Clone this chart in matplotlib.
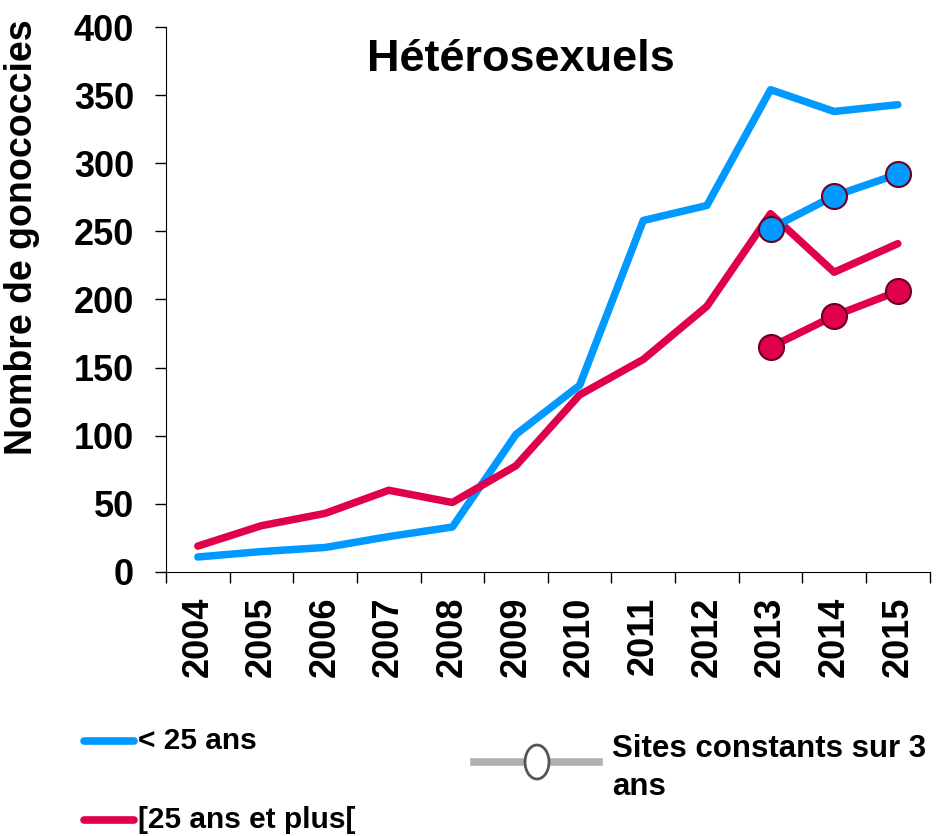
import matplotlib.pyplot as plt
import numpy as np
from matplotlib.lines import Line2D
from matplotlib.patches import Ellipse

plt.rcParams['font.family'] = ['Liberation Sans', 'DejaVu Sans']

years = ['2004', '2005', '2006', '2007', '2008', '2009', '2010', '2011', '2012', '2013', '2014', '2015']
moins25 = [11, 15, 18, 26, 33, 101, 137, 258, 269, 354, 338, 343]
plus25 = [19, 34, 43, 60, 51, 78, 130, 156, 195, 263, 220, 241]
const_years = ['2013', '2014', '2015']
const_moins25 = [252, 276, 292]
const_plus25 = [165, 188, 206]

blue = '#0099FF'
red = '#E0004D'
edge = '#6B0022'

fig = plt.figure(figsize=(9.39, 8.36), dpi=100)
ax = fig.add_axes([0.1768, 0.3158, 0.8132, 0.6519])

x = np.arange(len(years))
xc = [years.index(y) for y in const_years]
ax.plot(x, moins25, color=blue, lw=5.4, solid_capstyle='round')
ax.plot(x, plus25, color=red, lw=5.4, solid_capstyle='round')
ax.plot(xc, const_moins25, color=blue, lw=5.4, marker='o', ms=18,
        mfc=blue, mec=edge, mew=1.5)
ax.plot(xc, const_plus25, color=red, lw=5.4, marker='o', ms=18,
        mfc=red, mec=edge, mew=1.5)

ax.set_xlim(-0.5, len(years) - 0.5)
ax.set_ylim(0, 400)
ax.set_yticks(range(0, 401, 50))
ax.set_yticklabels([str(v) for v in range(0, 401, 50)], fontsize=26, fontweight='bold')
ax.set_xticks(x)
ax.set_xticklabels(years, rotation=90, fontsize=26, fontweight='bold')
ax.tick_params(axis='x', length=0, pad=18)
ax.set_xticks(np.arange(-0.5, len(years), 1), minor=True)
ax.tick_params(axis='x', which='minor', length=8, width=1, direction='out')
ax.tick_params(axis='y', length=8, width=1, direction='out', pad=15)
for s in ['top', 'right']:
    ax.spines[s].set_visible(False)
ax.set_ylabel('Nombre de gonococcies', fontsize=27, fontweight='bold')
ax.yaxis.set_label_coords(-0.165, 0.615)
ax.text(0.465, 0.94, 'Hétérosexuels', transform=ax.transAxes, ha='center', va='center',
        fontsize=32.5, fontweight='bold')

# legend drawn by hand
fig.add_artist(Line2D([0.089, 0.143], [0.1136, 0.1136], color=blue, lw=5.5,
                      solid_capstyle='round', transform=fig.transFigure))
fig.text(0.147, 0.1136, '< 25 ans', fontsize=21.5, fontweight='bold', va='center')
fig.add_artist(Line2D([0.089, 0.143], [0.0191, 0.0191], color=red, lw=5.5,
                      solid_capstyle='round', transform=fig.transFigure))
fig.text(0.147, 0.0191, '[25 ans et plus[', fontsize=21.5, fontweight='bold', va='center')
fig.add_artist(Line2D([0.505, 0.638], [0.0885, 0.0885], color='#B0B0B0', lw=5.5,
                      transform=fig.transFigure, zorder=2))
fig.add_artist(Ellipse((0.5719, 0.0885), 24 / 939, 34 / 836, facecolor='white',
                       edgecolor='#555555', lw=2, transform=fig.transFigure, zorder=3))
fig.text(0.652, 0.1035, 'Sites constants sur 3', fontsize=22.5, fontweight='bold', va='center')
fig.text(0.652, 0.0585, 'ans', fontsize=22.5, fontweight='bold', va='center')

fig.savefig('out.png', dpi=100)
